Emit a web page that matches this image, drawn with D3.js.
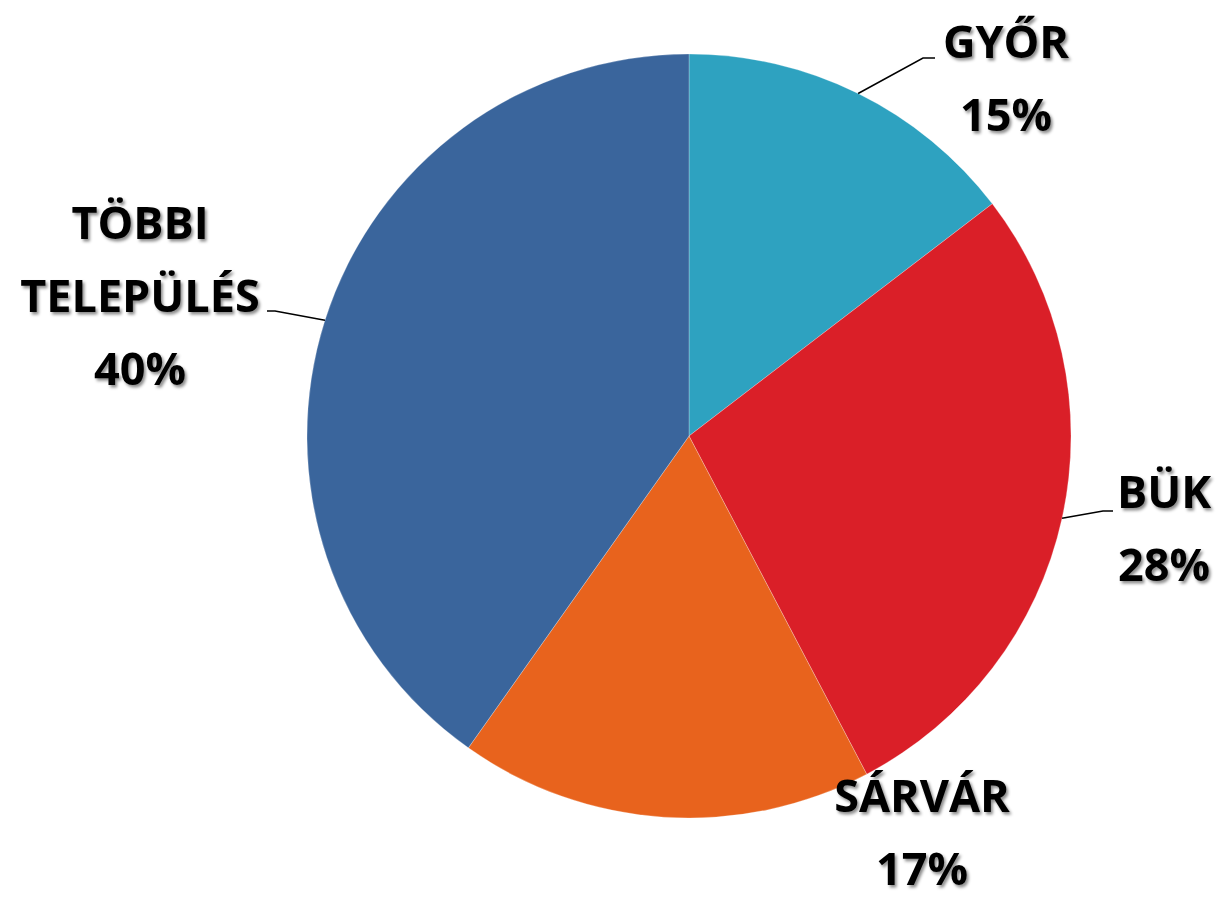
<!DOCTYPE html>
<html>
<head>
<meta charset="utf-8">
<script src="https://cdn.jsdelivr.net/npm/d3@7"></script>
<style>
  html, body { margin: 0; padding: 0; background: #fff; }
  svg { display: block; }
</style>
</head>
<body>
<div class="pie"></div>
<script>
// slice data (percent of total)
const categories = ["GYŐR", "BÜK", "SÁRVÁR", "TÖBBI TELEPÜLÉS"];
const values = [14.6, 27.7, 17.5, 40.2];
const percentLabels = ["15%", "28%", "17%", "40%"];
const colors = ["#2ea2c0", "#da1f28", "#e8631d", "#3a659c"];

// label layout: where each text block sits and which way its leader bends
const labelLayout = [
  { x: 1006, y: 58, lines: ["GYŐR"], elbow: [923, 58], end: [935, 58] },
  { x: 1164, y: 508, lines: ["BÜK"], elbow: [1103, 511], end: [1113, 511] },
  { x: 922, y: 812, lines: ["SÁRVÁR"], elbow: null, end: null },
  { x: 140, y: 239, lines: ["TÖBBI", "TELEPÜLÉS"], elbow: [275, 311], end: [267, 311] }
];

const w = 1216, h = 898;
const cx = 689, cy = 436, r = 382;
const lineH = 73;

const svg = d3.select(".pie").append("svg").attr("width", w).attr("height", h);

const defs = svg.append("defs");
defs.append("filter")
  .attr("id", "shadow")
  .attr("x", "-10%").attr("y", "-20%").attr("width", "130%").attr("height", "150%")
  .append("feDropShadow")
  .attr("dx", 2).attr("dy", 2.5)
  .attr("stdDeviation", 1.6)
  .attr("flood-color", "#000")
  .attr("flood-opacity", 0.45);

const dataSet = categories.map((c, i) => ({ label: c, value: values[i], pct: percentLabels[i], color: colors[i], lay: labelLayout[i] }));

const pie = d3.pie().sort(null).value(d => d.value);
const arc = d3.arc().innerRadius(0).outerRadius(r);
const arcs = pie(dataSet);

const g = svg.append("g").attr("transform", `translate(${cx},${cy})`);

g.selectAll("path")
  .data(arcs)
  .enter()
  .append("path")
  .attr("d", arc)
  .attr("fill", d => d.data.color)
  .attr("stroke", "#fff")
  .attr("stroke-opacity", 0.5)
  .attr("stroke-width", 0.5);

// leader lines from the edge point at mid angle
arcs.forEach(d => {
  const lay = d.data.lay;
  if (!lay.elbow) return;
  const mid = (d.startAngle + d.endAngle) / 2;
  const sx = cx + r * Math.sin(mid), sy = cy - r * Math.cos(mid);
  svg.append("polyline")
    .attr("points", [[sx, sy], lay.elbow, lay.end].map(p => p.join(",")).join(" "))
    .attr("fill", "none")
    .attr("stroke", "#000")
    .attr("stroke-width", 1.5);
});

// labels
const labels = svg.append("g")
  .attr("font-family", "'Open Sans', 'DejaVu Sans', sans-serif")
  .attr("font-weight", 700)
  .attr("font-size", 45)
  .attr("fill", "#000")
  .attr("text-anchor", "middle")
  .attr("filter", "url(#shadow)");

dataSet.forEach(d => {
  const lines = d.lay.lines.concat([d.pct]);
  lines.forEach((t, j) => {
    labels.append("text")
      .attr("x", d.lay.x)
      .attr("y", d.lay.y + j * lineH)
      .text(t);
  });
});
</script>
</body>
</html>
